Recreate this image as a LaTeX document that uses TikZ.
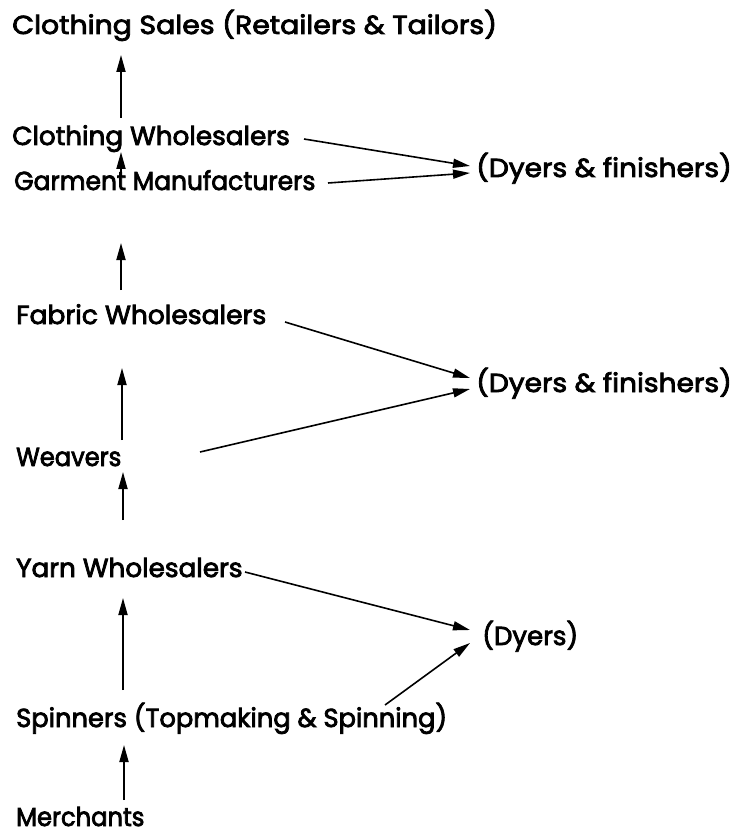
\documentclass[tikz,border=0pt]{standalone}
\usepackage{fontspec}
\newfontfamily\lblfont{Poppins}[FakeBold=3]
\usetikzlibrary{arrows.meta,calc}
\newcommand{\sx}[2]{\scalebox{#1}[1]{#2}}
\begin{document}
\begin{tikzpicture}[x=1pt,y=-1pt,
  lbl/.style={anchor=base west,inner sep=0pt,font=\lblfont\fontsize{26}{30}\selectfont},
  varr/.style={line width=1.8pt,-{Triangle[length=17pt,width=9pt]}},
  darr/.style={line width=1.6pt,-{Triangle[length=17pt,width=9pt]}}]
\useasboundingbox (0,0) rectangle (735,834);
\node[lbl] (title) at (12,34) {\sx{1.09}{Clothing Sales (Retailers \& Tailors)}};
\node[lbl] (cw) at (12,145) {\sx{1.01}{Clothing Wholesalers}};
\node[lbl] (gm) at (14,190) {\sx{0.96}{Garment Manufacturers}};
\node[lbl] (fw) at (16,324) {\sx{1.02}{Fabric Wholesalers}};
\node[lbl] (wv) at (16,466) {\sx{0.93}{Weavers}};
\node[lbl] (yw) at (16,577) {\sx{1.01}{Yarn Wholesalers}};
\node[lbl] (sp) at (16,727) {\sx{0.99}{Spinners (Topmaking \& Spinning)}};
\node[lbl] (mc) at (16,826) {\sx{0.93}{Merchants}};
\node[lbl] (d1) at (476,177) {\sx{1.08}{(Dyers \& finishers)}};
\node[lbl] (d2) at (476,392) {\sx{1.08}{(Dyers \& finishers)}};
\node[lbl] (d3) at (482,645) {\sx{1.0}{(Dyers)}};
% vertical arrows
\draw[varr] ($(cw.base west)+(109,-27)$) -- ($(title.base west)+(109,21)$);
\draw[varr] ($(gm.base west)+(107,-13)$) -- ($(cw.base west)+(109,7)$);
\draw[varr] ($(fw.base west)+(105,-34)$) -- ($(gm.base west)+(107,53)$);
\draw[varr] ($(wv.base west)+(106,-26)$) -- ($(fw.base west)+(106,44)$);
\draw[varr] ($(yw.base west)+(107,-57)$) -- ($(wv.base west)+(107,6)$);
\draw[varr] ($(sp.base west)+(107,-37)$) -- ($(yw.base west)+(107,21)$);
\draw[varr] ($(mc.base west)+(108,-26)$) -- ($(sp.base west)+(108,18)$);
% diagonal arrows
\draw[darr] ($(cw.base west)+(292,-6)$) -- ($(d1.base west)+(-6,-11)$);
\draw[darr] ($(gm.base west)+(314,-7)$) -- ($(d1.base west)+(-6,-4)$);
\draw[darr] ($(fw.base west)+(269,-2)$) -- ($(d2.base west)+(-6,-14)$);
\draw[darr] ($(wv.base west)+(184,-14)$) -- ($(d2.base west)+(-6,-3)$);
\draw[darr] ($(yw.base west)+(229,-5)$) -- ($(d3.base west)+(-12,-15)$);
\draw[darr] ($(sp.base west)+(369,-22)$) -- ($(d3.base west)+(-12,-2)$);
\end{tikzpicture}
\end{document}
